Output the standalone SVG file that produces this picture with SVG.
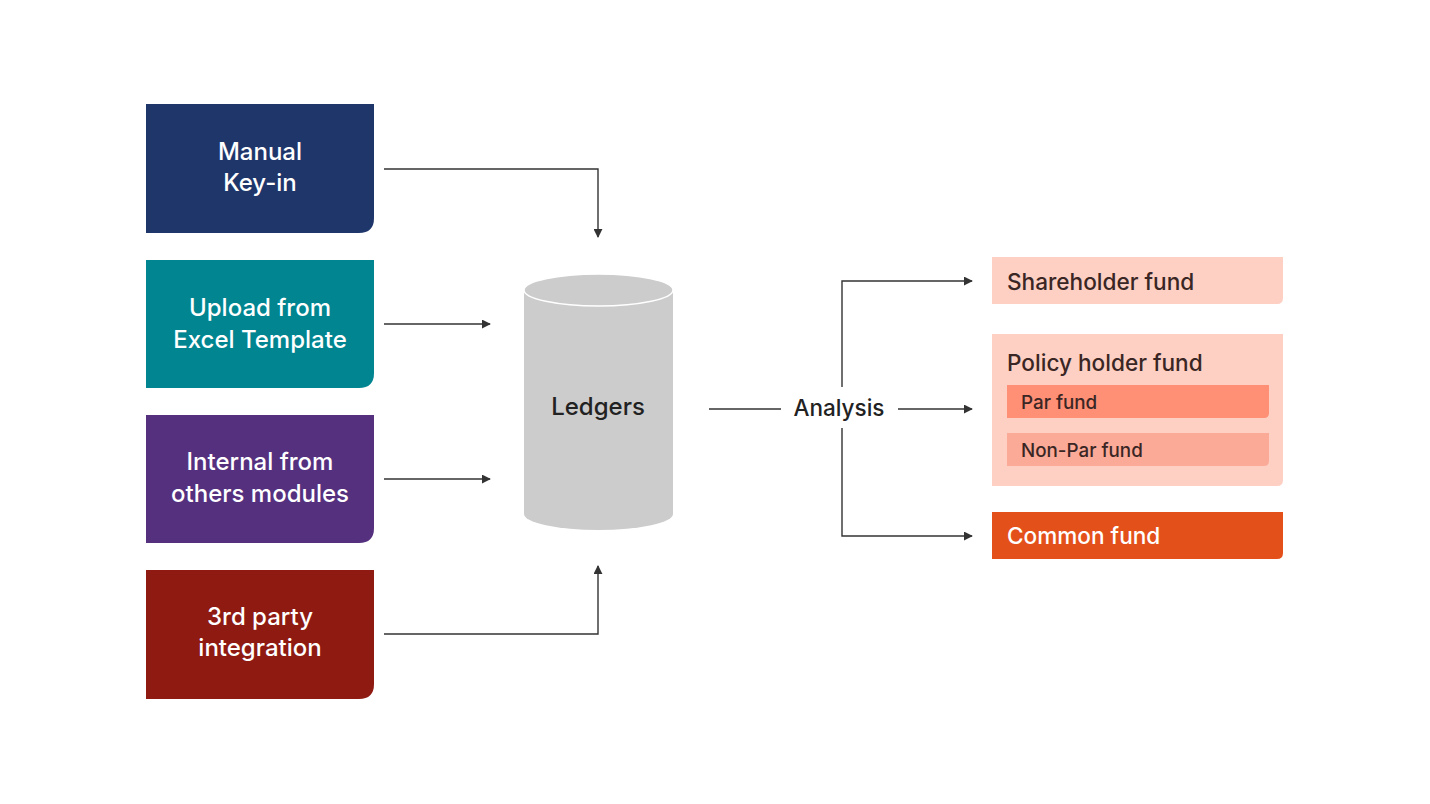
<svg xmlns="http://www.w3.org/2000/svg" width="1430" height="804" viewBox="0 0 1430 804">
<style>
.src{font-family:"Inter","Open Sans","Liberation Sans",sans-serif;font-size:24px;fill:#fff;text-anchor:middle;font-weight:500}
.lbl{font-family:"Inter","Open Sans","Liberation Sans",sans-serif;font-size:24px;fill:#222;font-weight:500}
.fund{font-family:"Inter","Open Sans","Liberation Sans",sans-serif;font-size:22.6px;fill:#3a2624;font-weight:500}
.sub{font-family:"Inter","Open Sans","Liberation Sans",sans-serif;font-size:18.8px;fill:#3a2624;font-weight:500}
.ln{fill:none;stroke:#333;stroke-width:1.4}
</style>
<defs>
<marker id="ah" viewBox="0 0 10 10" refX="9" refY="5" markerWidth="9" markerHeight="9" markerUnits="userSpaceOnUse" orient="auto">
<path d="M0,0 L10,5 L0,10 z" fill="#333"/>
</marker>
</defs>
<rect width="1430" height="804" fill="#fff"/>

<g id="manual">
<path d="M146,104 H374 V218 Q374,233 359,233 H146 Z" fill="#1F366B"/>
<text class="src" x="260" y="160">Manual</text>
<text class="src" x="260" y="191">Key-in</text>
</g>
<g id="upload">
<path d="M146,260 H374 V373 Q374,388 359,388 H146 Z" fill="#008591"/>
<text class="src" x="260" y="316">Upload from</text>
<text class="src" x="260" y="348">Excel Template</text>
</g>
<g id="internal">
<path d="M146,415 H374 V528 Q374,543 359,543 H146 Z" fill="#55307F"/>
<text class="src" x="260" y="470">Internal from</text>
<text class="src" x="260" y="502">others modules</text>
</g>
<g id="thirdparty">
<path d="M146,570 H374 V684 Q374,699 359,699 H146 Z" fill="#8E1A12"/>
<text class="src" x="260" y="625">3rd party</text>
<text class="src" x="260" y="656">integration</text>
</g>

<g id="ledgers">
<path d="M524,290 V514 A74.5,16 0 0 0 673,514 V290 Z" fill="#CCCCCC"/>
<ellipse cx="598.5" cy="290" rx="74.5" ry="16" fill="#CCCCCC" stroke="#fff" stroke-width="1.5"/>
<text class="lbl" x="598" y="415" text-anchor="middle">Ledgers</text>
</g>

<g id="analysis">
<text class="lbl" x="839" y="416" text-anchor="middle" style="font-size:22.5px">Analysis</text>
</g>

<g id="shareholder">
<path d="M992,257 H1283 V298 Q1283,304 1277,304 H992 Z" fill="#FDD0C3"/>
<text class="fund" x="1007" y="290">Shareholder fund</text>
</g>
<g id="policyholder">
<path d="M992,334 H1283 V480 Q1283,486 1277,486 H992 Z" fill="#FDD0C3"/>
<text class="fund" x="1007" y="371">Policy holder fund</text>
<g id="par">
<path d="M1007,385 H1269 V413 Q1269,418 1264,418 H1007 Z" fill="#FF8F75"/>
<text class="sub" x="1021" y="409">Par fund</text>
</g>
<g id="nonpar">
<path d="M1007,433 H1269 V461 Q1269,466 1264,466 H1007 Z" fill="#FCAA98"/>
<text class="sub" x="1021" y="457">Non-Par fund</text>
</g>
</g>
<g id="common">
<path d="M992,512 H1283 V553 Q1283,559 1277,559 H992 Z" fill="#E4501A"/>
<text class="fund" x="1007" y="544" style="fill:#fff">Common fund</text>
</g>

<g id="connectors">
<path class="ln" d="M384,169 H598 V237" marker-end="url(#ah)"/>
<path class="ln" d="M384,324 H490" marker-end="url(#ah)"/>
<path class="ln" d="M384,479 H490" marker-end="url(#ah)"/>
<path class="ln" d="M384,634 H598 V566" marker-end="url(#ah)"/>
<path class="ln" d="M709,409 H781"/>
<path class="ln" d="M898,409 H972" marker-end="url(#ah)"/>
<path class="ln" d="M842,387 V281 H972" marker-end="url(#ah)"/>
<path class="ln" d="M842,428 V536 H972" marker-end="url(#ah)"/>
</g>
</svg>
